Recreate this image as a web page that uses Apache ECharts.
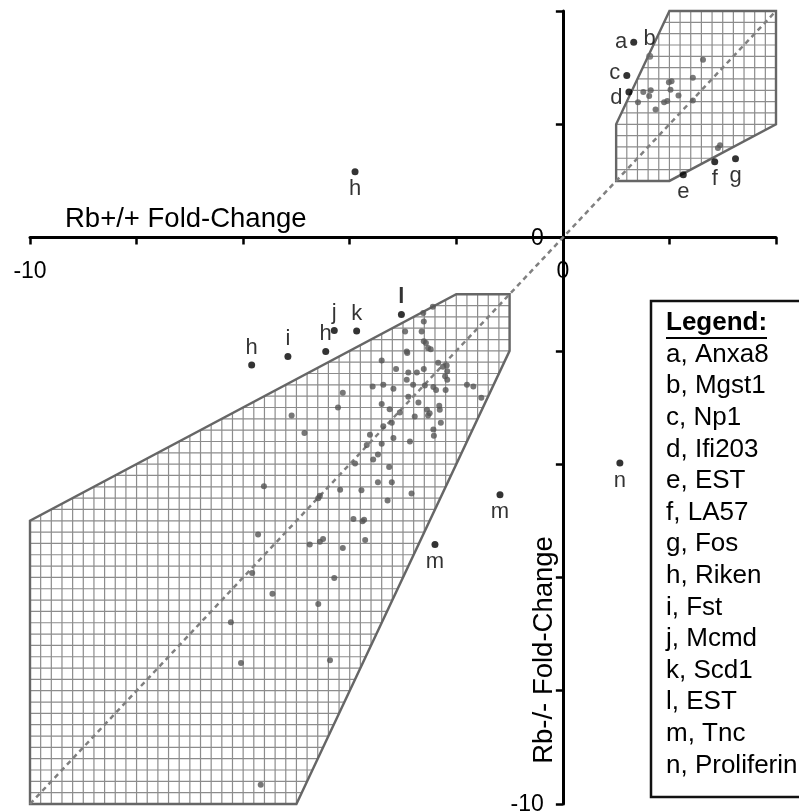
<!DOCTYPE html>
<html><head><meta charset="utf-8">
<script src="https://cdn.jsdelivr.net/npm/echarts@6/dist/echarts.min.js"></script>
<style>html,body{margin:0;padding:0;background:#fff}#c{width:799px;height:811px}</style>
</head><body><div id="c"></div>
<script>
// ---------- data ----------
const axisMin = -10, axisMax = 4, axisStep = 2;
const shownTickLabels = [-10, 0];
const xTitle = 'Rb+/+ Fold-Change';
const yTitle = 'Rb-/- Fold-Change';
const upRegion = [[1,2],[2,4],[4,4],[4,2],[2,1],[1,1]];
const downRegion = [[-10,-5],[-10,-10],[-5,-10],[-1,-2],[-1,-1],[-2,-1]];
const hatchStep = 0.2;
const identityLine = [[-10,-10],[4,4]];

const upX = [1.41,1.51,1.65,1.62,1.74,1.90,1.96,1.99,2.04,2.02,2.17,2.44,2.63,2.44,2.91,2.95];
const upY = [2.39,2.57,2.60,2.50,2.26,2.39,2.41,2.74,2.76,2.61,2.51,2.82,3.14,2.42,1.58,1.63];

const downX = [-2.44,-2.62,-2.61,-2.96,-2.65,-2.61,-2.57,-2.53,-2.48,-2.93,-2.92,-3.40,-2.34,-2.25,-2.18,-2.17,-2.21,-2.17,-2.20,
  -3.13,-2.90,-2.74,-2.61,-2.93,-3.57,-3.37,-3.18,-2.81,-2.59,-2.43,-2.38,-1.80,-1.68,-4.13,-2.90,-1.53,-4.22,-3.40,-3.25,-3.06,
  -2.71,-2.55,-2.50,-2.53,-2.32,-2.31,-2.78,-2.29,-3.21,-3.37,-4.85,-2.43,-2.42,-3.62,-3.18,-2.87,-3.68,-3.40,-3.47,-3.56,-3.90,
  -3.26,-3.47,-3.21,-4.18,-3.78,-3.29,-2.84,-4.56,-4.59,-3.93,-3.76,-3.73,-3.71,-4.75,-4.56,-4.50,-4.13,-4.29,-4.59,-4.37,
  -5.61,-5.72,-5.83,-5.45,-6.23,-6.04,-5.67,-5.09];
const downY = [-1.22,-1.33,-1.48,-1.66,-1.66,-1.83,-1.86,-1.95,-1.97,-2.01,-2.04,-2.17,-2.21,-2.28,-2.26,-2.36,-2.45,-2.51,-2.69,
  -2.32,-2.38,-2.38,-2.32,-2.51,-2.63,-2.60,-2.67,-2.60,-2.61,-2.64,-2.69,-2.60,-2.63,-2.74,-2.81,-2.83,-3.00,-2.94,-3.03,-3.09,
  -2.91,-3.04,-3.10,-3.14,-2.97,-3.04,-3.16,-3.27,-3.27,-3.33,-3.45,-3.39,-3.50,-3.48,-3.54,-3.60,-3.66,-3.64,-3.83,-3.92,-3.99,
  -4.05,-4.32,-4.32,-4.45,-4.46,-4.64,-4.52,-4.56,-4.60,-4.97,-5.01,-4.98,-5.34,-5.42,-5.37,-5.32,-5.48,-6.01,-6.47,-7.46,
  -4.39,-5.24,-5.92,-6.29,-6.79,-7.51,-9.66,-3.14];

const namedLetters = ['a','b','c','d','e','f','g','h','h','i','h','j','k','l','m','m','n'];
const namedX = [1.33,1.63,1.20,1.24,2.26,2.85,3.24,-3.90,-5.84,-5.16,-4.45,-4.29,-3.87,-3.03,-1.18,-2.40,1.07];
const namedY = [3.45,3.20,2.86,2.57,1.11,1.34,1.39,1.16,-2.25,-2.10,-2.01,-1.64,-1.65,-1.36,-4.54,-5.42,-3.98];

const legendTitle = 'Legend:';
const legendLetters = ['a','b','c','d','e','f','g','h','i','j','k','l','m','n'];
const legendGenes = ['Anxa8','Mgst1','Np1','Ifi203','EST','LA57','Fos','Riken','Fst','Mcmd','Scd1','EST','Tnc','Proliferin'];

// ---------- styling ----------
const FONT = '"Liberation Sans", Arial, sans-serif';
const labelPlace = ['left','top','left','left','bottom','bottom','bottom','bottom','top','top','top','top','top','top','bottom','bottom','bottom'];
const labelShift = {3:[0,6], 2:[0,-3]};

function zip(xs, ys){ return xs.map((x,i)=>[x, ys[i]]); }

function hatchRender(region){
  return function(params, api){
    const n = region.length;
    const xs = region.map(p=>p[0]), ys = region.map(p=>p[1]);
    const bounds = [[Math.min(...xs), Math.max(...xs)], [Math.min(...ys), Math.max(...ys)]];
    function span(axis, c){
      const o = 1 - axis; let lo = Infinity, hi = -Infinity;
      for (let i=0;i<n;i++){
        const p = region[i], q = region[(i+1)%n];
        const a = p[axis], b = q[axis];
        if (c >= Math.min(a,b)-1e-9 && c <= Math.max(a,b)+1e-9){
          if (Math.abs(b-a) < 1e-12){ lo = Math.min(lo,p[o],q[o]); hi = Math.max(hi,p[o],q[o]); }
          else { const t=(c-a)/(b-a); const v=p[o]+t*(q[o]-p[o]); lo=Math.min(lo,v); hi=Math.max(hi,v); }
        }
      }
      return [lo,hi];
    }
    const children = [];
    for (let axis=0; axis<2; axis++){
      const [b0,b1] = bounds[axis];
      for (let k=Math.ceil(b0/hatchStep-1e-6); k*hatchStep<=b1+1e-6; k++){
        const c = k*hatchStep;
        const [lo,hi] = span(axis,c);
        if (!(hi>lo)) continue;
        const A = axis===0 ? api.coord([c,lo]) : api.coord([lo,c]);
        const B = axis===0 ? api.coord([c,hi]) : api.coord([hi,c]);
        children.push({type:'line', shape:{x1:A[0],y1:A[1],x2:B[0],y2:B[1]}, style:{stroke:'#8c8c8c', lineWidth:1.2}});
      }
    }
    children.push({type:'polygon', shape:{points: region.map(p=>api.coord(p))}, style:{fill:'none', stroke:'#666', lineWidth:2.4}});
    return {type:'group', children};
  };
}

const namedData = namedLetters.map((L,i)=>({
  value:[namedX[i], namedY[i]],
  itemStyle: L==='b' ? {color:'#666'} : undefined,
  label:{show:true, formatter:L, position:labelPlace[i], distance:3, offset: labelShift[i]||[0,0],
    fontWeight: L==='l' ? 'bold' : 'normal'}
}));

const chart = echarts.init(document.getElementById('c'), null, {renderer:'canvas'});
const axisCommon = {
  type:'value', min:axisMin, max:axisMax, interval:axisStep,
  splitLine:{show:false},
  axisLine:{onZero:true, lineStyle:{color:'#000', width:3}},
  axisTick:{show:true, inside:false, length:7, lineStyle:{color:'#000', width:2.5}},
  axisLabel:{show:false}
};
chart.setOption({
  animation:false,
  backgroundColor:'#fff',
  grid:{left:30, right:23, top:11, bottom:7, containLabel:false, outerBoundsMode:'none'},
  xAxis: Object.assign({}, axisCommon),
  yAxis: Object.assign({}, axisCommon),
  series:[
    {type:'custom', renderItem:hatchRender(downRegion), data:[[0,0]], clip:false, silent:true, z:1},
    {type:'custom', renderItem:hatchRender(upRegion), data:[[0,0]], clip:false, silent:true, z:1},
    {type:'line', data:identityLine, symbol:'none', lineStyle:{color:'#808080', width:2.5, type:[5,4]}, z:2, silent:true},
    {type:'scatter', data:zip(upX,upY), symbolSize:6, itemStyle:{color:'#595959'}, z:3},
    {type:'scatter', data:zip(downX,downY), symbolSize:6, itemStyle:{color:'#555'}, z:3},
    {type:'scatter', data:namedData, symbolSize:7, itemStyle:{color:'#000'}, z:4,
      label:{color:'#000', fontSize:22, fontFamily:FONT}}
  ]
});

// tick labels placed through the library's own coordinate conversion
const origin = chart.convertToPixel({gridIndex:0}, [0,0]);
const graphics = [];
shownTickLabels.forEach(v=>{
  const px = chart.convertToPixel({gridIndex:0}, [v,0]);
  graphics.push({type:'text', x:px[0], y:origin[1]+34, style:{text:String(v), font:'23px '+FONT, fill:'#000', textAlign:'center', textVerticalAlign:'middle'}, z:40});
  const py = chart.convertToPixel({gridIndex:0}, [0,v]);
  graphics.push({type:'text', x:origin[0]-19, y:py[1]+1, style:{text:String(v), font:'23px '+FONT, fill:'#000', textAlign:'right', textVerticalAlign:'middle'}, z:40});
});
graphics.push(
  {type:'text', x:65, y:219, style:{text:xTitle, font:'27.5px '+FONT, fill:'#000', textVerticalAlign:'middle'}, z:40},
  {type:'text', x:544, y:650, rotation:Math.PI/2, style:{text:yTitle, font:'27.5px '+FONT, fill:'#000', textAlign:'center', textVerticalAlign:'middle'}, z:40}
);
graphics.push(
  {type:'rect', shape:{x:651, y:301, width:200, height:496}, style:{fill:'#fff', stroke:'#111', lineWidth:2.5}, z:50},
  {type:'text', x:666, y:323, style:{text:legendTitle, font:'bold 26px '+FONT, fill:'#000', textVerticalAlign:'middle'}, z:51},
  {type:'line', shape:{x1:666, y1:338, x2:767, y2:338}, style:{stroke:'#000', lineWidth:2}, z:51}
);
legendLetters.forEach((L,i)=>{
  graphics.push({type:'text', x:666, y:323+31.6*(i+1),
    style:{text:L+', '+legendGenes[i], font:'26px '+FONT, fill:'#000', textVerticalAlign:'middle'}, z:51});
});
chart.setOption({graphic:graphics});
</script></body></html>
